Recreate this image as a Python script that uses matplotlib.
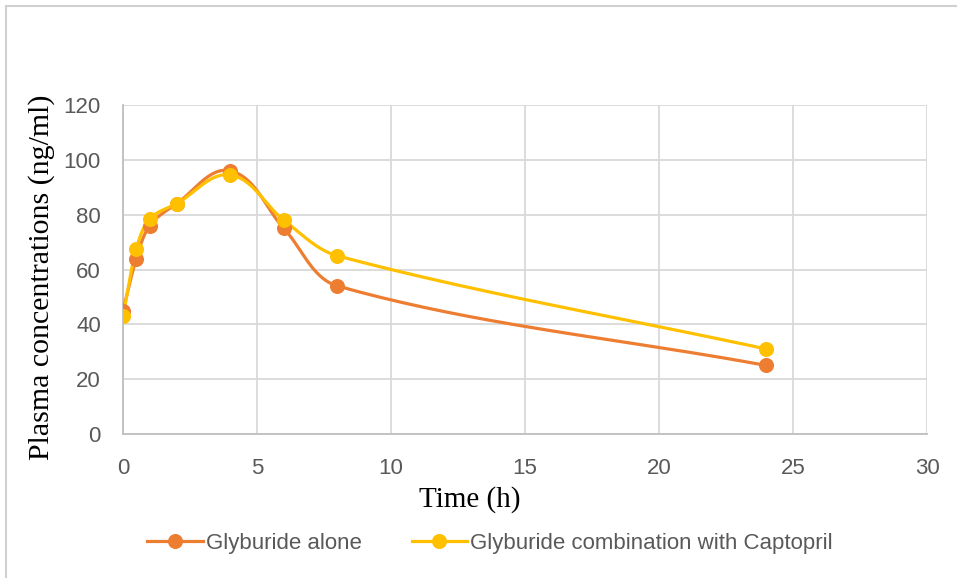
import numpy as np
import matplotlib
matplotlib.use('Agg')
import matplotlib.pyplot as plt
from matplotlib.lines import Line2D
from matplotlib.patches import Rectangle

# Sampling times (h) and mean plasma concentrations (ng/ml)
time_h = [0, 0.5, 1, 2, 4, 6, 8, 24]
glyb_alone = [45, 64, 76, 84, 96, 75, 54, 25]
glyb_capto = [43, 67.5, 78.5, 84, 94.5, 78, 65, 31]
series_names = ['Glyburide alone', 'Glyburide combination with Captopril']
x_ticks = [0, 5, 10, 15, 20, 25, 30]
y_ticks = [0, 20, 40, 60, 80, 100, 120]

ORANGE = '#ED7D31'
YELLOW = '#FFC000'
GRID = '#D9D9D9'
TICK = '#595959'


def smooth(xs, ys, sx, sy, n=40):
    """Bezier smoothing in screen-like units; tangent length follows each segment."""
    p = np.column_stack([np.asarray(xs, float) * sx, np.asarray(ys, float) * sy])
    m = len(p)
    tang = []
    for i in range(m):
        a = p[i - 1] if i > 0 else p[i]
        b = p[i + 1] if i + 1 < m else p[i]
        d = b - a
        tang.append(d / np.linalg.norm(d))
    out = []
    for i in range(m - 1):
        p1, p2 = p[i], p[i + 1]
        L = np.linalg.norm(p2 - p1)
        c1 = p1 + tang[i] * L / 3.0
        c2 = p2 - tang[i + 1] * L / 3.0
        t = np.linspace(0, 1, n)[:, None]
        seg = ((1 - t) ** 3) * p1 + 3 * ((1 - t) ** 2) * t * c1 + 3 * (1 - t) * t ** 2 * c2 + t ** 3 * p2
        out.append(seg if i == 0 else seg[1:])
    pts = np.vstack(out)
    return pts[:, 0] / sx, pts[:, 1] / sy


fig = plt.figure(figsize=(9.57, 5.78), dpi=100)
fig.patch.set_facecolor('white')
ax = fig.add_axes([123 / 957, 1 - 434 / 578, (927 - 123) / 957, (434 - 105) / 578])

# outer chart frame
fig.add_artist(Rectangle((6 / 957, -0.05), 1.1, 1 - 6 / 578 + 0.05, transform=fig.transFigure,
                         fill=False, edgecolor='#D0D0D0', linewidth=1.5))

px_x = (927 - 123) / 30.0
px_y = (434 - 105) / 120.0
for ys, col in [(glyb_alone, ORANGE), (glyb_capto, YELLOW)]:
    sx, sy = smooth(time_h, ys, px_x, px_y)
    ax.plot(sx, sy, color=col, linewidth=2.3, solid_capstyle='round', zorder=3)
    ax.plot(time_h, ys, linestyle='none', marker='o', markersize=9.8,
            color=col, markeredgecolor=col, zorder=4)

ax.set_xlim(0, 30)
ax.set_ylim(0, 120)
ax.set_xticks(x_ticks)
ax.set_yticks(y_ticks)
ax.grid(True, color=GRID, linewidth=1.3)
ax.set_axisbelow(True)
for s in ['top', 'right']:
    ax.spines[s].set_visible(False)
for s in ['left', 'bottom']:
    ax.spines[s].set_color('#BFBFBF')
    ax.spines[s].set_linewidth(1.3)
ax.tick_params(length=0, labelsize=16, labelcolor=TICK)
ax.tick_params(axis='x', pad=17)
ax.tick_params(axis='y', pad=16)
for lab in ax.get_xticklabels() + ax.get_yticklabels():
    lab.set_family('Liberation Sans')

ax.set_xlabel('Time (h)', family='Liberation Serif', fontsize=21)
ax.xaxis.set_label_coords((470 - 123) / (927 - 123), -(500 - 434) / (434 - 105))
ax.xaxis.label.set_va('center')
ax.set_ylabel('Plasma concentrations (ng/ml)', family='Liberation Serif', fontsize=21.5)
ax.yaxis.set_label_coords(-(123 - 42) / (927 - 123), (434 - 277) / (434 - 105))
ax.yaxis.label.set_va('center')

handles = [Line2D([], [], color=c, linewidth=2.3, marker='o', markersize=9.8) for c in (ORANGE, YELLOW)]
leg = fig.legend(handles, series_names, loc='center', bbox_to_anchor=(490 / 957, 1 - 543 / 578),
                 ncol=2, frameon=False, handlelength=2.5, handletextpad=0.14, columnspacing=2.25,
                 prop={'family': 'Liberation Sans', 'size': 16})
for t in leg.get_texts():
    t.set_color(TICK)

fig.savefig('out.png', dpi=100, facecolor='white')
